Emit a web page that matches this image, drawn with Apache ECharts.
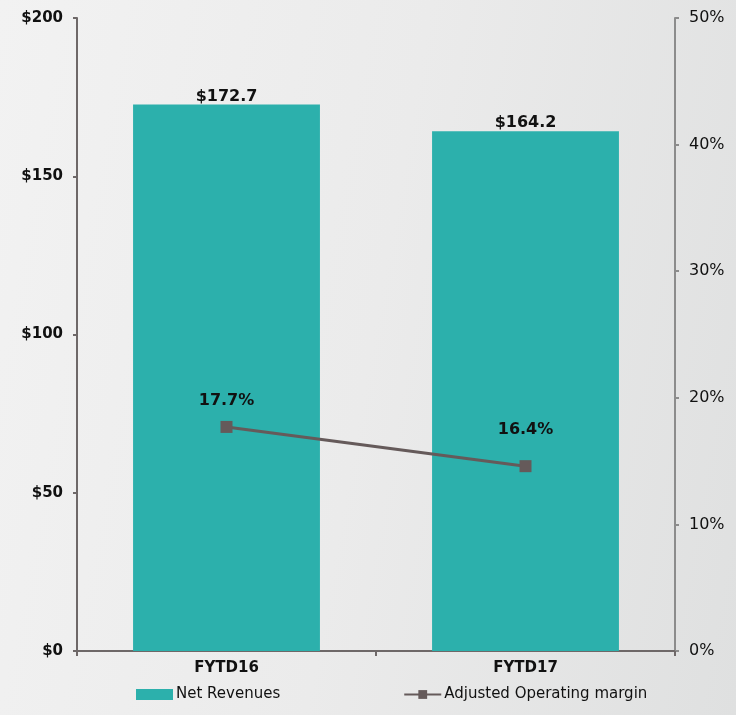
<!DOCTYPE html>
<html><head><meta charset="utf-8">
<script src="https://cdn.jsdelivr.net/npm/echarts@6/dist/echarts.min.js"></script>
<style>html,body{margin:0;padding:0;}#c{width:736px;height:715px;background:linear-gradient(100deg,#f2f2f2 0%,#ebebeb 50%,#dfe0e0 100%);}</style>
</head><body><div id="c"></div>
<script>
const categories = ["FYTD16", "FYTD17"];
const netRevenues = [172.7, 164.2];
const marginValues = [17.7, 14.6];
const marginLabels = ["17.7%", "16.4%"];
const leftTicks = [0, 50, 100, 150, 200];
const rightTicks = [0, 10, 20, 30, 40, 50];

const chart = echarts.init(document.getElementById('c'), null, {renderer: 'canvas'});
const font = "DejaVu Sans";
chart.setOption({
  animation: false,
  textStyle: {fontFamily: font},
  grid: {left: 77, right: 61, top: 18, bottom: 64},
  legend: {
    bottom: 8, left: 131, itemGap: 123, itemWidth: 37, itemHeight: 11,
    textStyle: {fontFamily: font, fontSize: 15, color: '#111', padding: [0, 0, 0, -2]},
    data: [
      {name: 'Net Revenues', icon: 'rect'},
      {name: 'Adjusted Operating margin'}
    ]
  },
  xAxis: {
    type: 'category', data: categories,
    axisLine: {lineStyle: {color: '#6e6868', width: 2}},
    axisTick: {show: true, length: 5, lineStyle: {color: '#6e6868', width: 2}},
    axisLabel: {fontFamily: font, fontWeight: 'bold', fontSize: 15, color: '#111', margin: 10}
  },
  yAxis: [
    {
      type: 'value', min: leftTicks[0], max: leftTicks[leftTicks.length-1], interval: 50,
      axisLine: {show: true, lineStyle: {color: '#6e6868', width: 2}},
      axisTick: {show: true, length: 4, lineStyle: {color: '#6e6868', width: 2}},
      splitLine: {show: false},
      axisLabel: {fontFamily: font, fontWeight: 'bold', fontSize: 15, color: '#111', margin: 14,
        formatter: v => '$' + v}
    },
    {
      type: 'value', min: rightTicks[0], max: rightTicks[rightTicks.length-1], interval: 10,
      position: 'right',
      axisLine: {show: true, lineStyle: {color: '#8c8c8c', width: 2}},
      axisTick: {show: true, length: 4, lineStyle: {color: '#8c8c8c', width: 2}},
      splitLine: {show: false},
      axisLabel: {fontFamily: font, fontSize: 16, color: '#111', margin: 14,
        formatter: v => v + '%'}
    }
  ],
  series: [
    {
      name: 'Net Revenues', type: 'bar', data: netRevenues, barWidth: '62.5%',
      itemStyle: {color: '#2cb0ac'},
      label: {show: true, position: 'top', distance: 0, fontFamily: font, fontWeight: 'bold',
        fontSize: 16, color: '#111', formatter: p => '$' + p.value.toFixed(1)}
    },
    {
      name: 'Adjusted Operating margin', type: 'line', yAxisIndex: 1,
      data: marginValues.map((v, i) => ({value: v,
        label: {distance: i === 0 ? 12 : 22}})),
      symbol: 'rect', symbolSize: 12,
      lineStyle: {color: '#655a5a', width: 3},
      itemStyle: {color: '#655a5a'},
      label: {show: true, position: 'top', fontFamily: font, fontWeight: 'bold',
        fontSize: 16, color: '#111', formatter: p => marginLabels[p.dataIndex]}
    }
  ]
});
</script></body></html>
